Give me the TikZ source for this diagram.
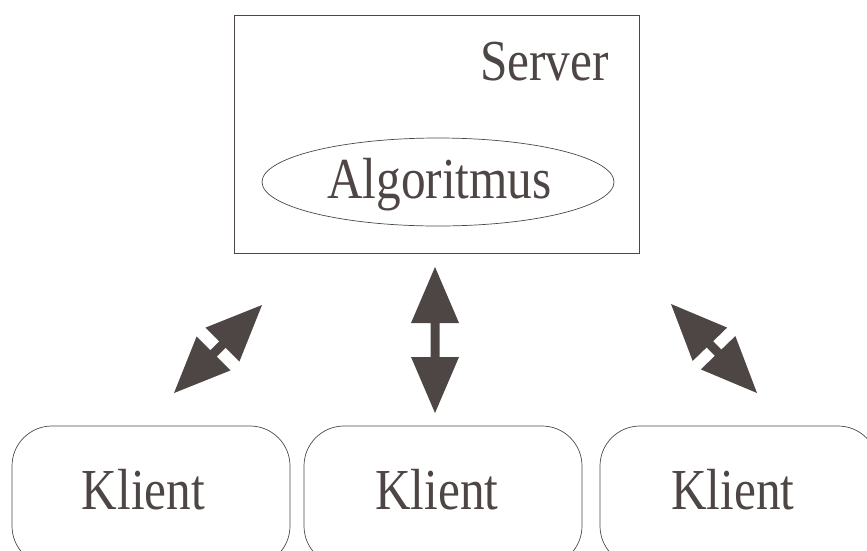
\documentclass[tikz,border=0pt]{standalone}
\usepackage{fontspec}
\setmainfont{Liberation Serif}[FakeStretch=0.85]
\usetikzlibrary{calc,shapes.geometric}
\definecolor{ink}{HTML}{4E4644}
% double-headed block arrow between two named points:
% #1,#2 end points, #3 head length, #4 head half-width, #5 shaft half-width
\newcommand\fatarrow[5]{%
  \fill[ink] (#1)
    -- ($(#1)!#3!(#2)!#4!90:(#2)$) -- ($(#1)!#3!(#2)!#5!90:(#2)$)
    -- ($(#2)!#3!(#1)!#5!-90:(#1)$) -- ($(#2)!#3!(#1)!#4!-90:(#1)$)
    -- (#2)
    -- ($(#2)!#3!(#1)!#4!90:(#1)$) -- ($(#2)!#3!(#1)!#5!90:(#1)$)
    -- ($(#1)!#3!(#2)!#5!-90:(#2)$) -- ($(#1)!#3!(#2)!#4!-90:(#2)$)
    -- cycle;}
\begin{document}
\begin{tikzpicture}[x=1pt,y=-1pt,
  frame/.style={draw=ink, line width=0.7pt},
  label/.style={text=ink, inner sep=0pt, font=\fontsize{58}{60}\selectfont},
  client/.style={frame, rounded corners=40pt, minimum width=278pt, minimum height=140pt, inner sep=0pt}]
\useasboundingbox (0,0) rectangle (867,550);

% server with its algorithm
\node[frame, minimum width=405pt, minimum height=238pt, inner sep=0pt] (server) at (436.5,134) {};
\node[label, anchor=base west] (servertext) at (480,80) {Server};
\node[frame, ellipse, minimum width=352pt, minimum height=88pt, inner sep=0pt] (algo) at (438,182) {};
\node[label, anchor=base] (algotext) at (439.5,198) {Algoritmus};

% clients
\node[client] (k1) at (151,496) {};
\node[client] (k2) at (443,496) {};
\node[client] (k3) at (739,496) {};
\node[label, anchor=base] (k1text) at (143.5,509) {Klient};
\node[label, anchor=base] (k2text) at (437,509) {Klient};
\node[label, anchor=base] (k3text) at (733,509) {Klient};

% communication arrows
\coordinate (a1) at (174,393); \coordinate (b1) at (262,305);
\coordinate (a2) at (435,267); \coordinate (b2) at (435,413);
\coordinate (a3) at (671,304); \coordinate (b3) at (757,393);
\fatarrow{a1}{b1}{56pt}{24pt}{4.5pt}
\fatarrow{a2}{b2}{56pt}{24pt}{4.5pt}
\fatarrow{a3}{b3}{56pt}{24pt}{4.5pt}
\end{tikzpicture}
\end{document}
